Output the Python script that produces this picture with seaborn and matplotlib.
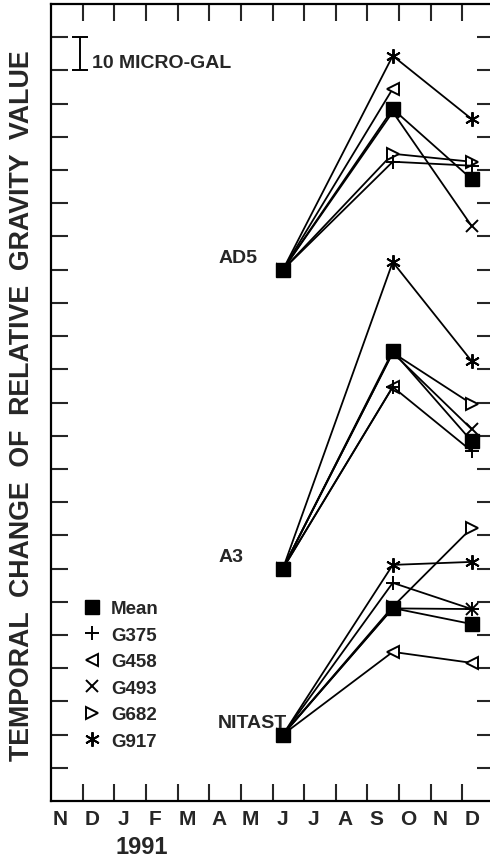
import numpy as np
import pandas as pd
import matplotlib
matplotlib.use("Agg")
import matplotlib.pyplot as plt
from matplotlib.lines import Line2D
import seaborn as sns

# Stations and their vertical offsets on the plot (micro-gal)
stations = ["AD5", "A3", "NITAST"]
station_offset = [160, 70, 20]

# Survey epochs in months counted from 1 Nov 1990: Jun 1991, late Sep 1991, Dec 1991
survey_month = [7.33, 10.8, 13.29]

# Month letters along the time axis (Nov 1990 - Dec 1991)
month_letters = ["N", "D", "J", "F", "M", "A", "M", "J", "J", "A", "S", "O", "N", "D"]

series_names = ["Mean", "G375", "G458", "G493", "G682", "G917"]

# Gravity change relative to June (micro-gal), per station [AD5, A3, NITAST]
mean_sep = [48.4, 65.5, 38.1]
mean_dec = [27.3, 38.4, 33.3]
g375_sep = [32.5, 54.7, 45.7]
g375_dec = [31.3, 35.4, 37.8]
g458_sep = [54.5, 54.7, 24.9]
g458_dec = [np.nan, np.nan, 21.6]
g493_sep = [47.5, 65.0, 38.0]
g493_dec = [13.2, 42.0, 37.8]
g682_sep = [34.9, 65.0, 38.5]
g682_dec = [32.5, 49.6, 62.2]
g917_sep = [64.4, 92.3, 51.1]
g917_dec = [45.4, 62.5, 52.0]

changes = {
    "Mean": (mean_sep, mean_dec),
    "G375": (g375_sep, g375_dec),
    "G458": (g458_sep, g458_dec),
    "G493": (g493_sep, g493_dec),
    "G682": (g682_sep, g682_dec),
    "G917": (g917_sep, g917_dec),
}

rows = []
for si, st in enumerate(stations):
    base = station_offset[si]
    for name in series_names:
        sep, dec = changes[name]
        vals = [0.0, sep[si], dec[si]]
        for m, v in zip(survey_month, vals):
            if not np.isnan(v):
                rows.append({"station": st, "series": name, "month": m, "value": base + v})
df = pd.DataFrame(rows)

marker_style = {
    "Mean": dict(marker="s", markersize=9.5, markerfacecolor="black", markeredgecolor="black", markeredgewidth=1.0),
    "G375": dict(marker="+", markersize=10, markerfacecolor="black", markeredgecolor="black", markeredgewidth=1.4),
    "G458": dict(marker="<", markersize=8.5, markerfacecolor="white", markeredgecolor="black", markeredgewidth=1.4),
    "G493": dict(marker="x", markersize=8, markerfacecolor="black", markeredgecolor="black", markeredgewidth=1.4),
    "G682": dict(marker=">", markersize=8.5, markerfacecolor="white", markeredgecolor="black", markeredgewidth=1.4),
    "G917": dict(marker=(6, 2, 0), markersize=10.5, markerfacecolor="black", markeredgecolor="black", markeredgewidth=1.4),
}

sns.set_style("ticks")
plt.rcParams["font.family"] = ["Liberation Sans", "DejaVu Sans"]
plt.rcParams["font.weight"] = "bold"

W, H = 490, 862
fig = plt.figure(figsize=(W / 100, H / 100), dpi=100)
ax = fig.add_axes([51 / W, (H - 802) / H, (494 - 51) / W, 797 / H])

draw_order = ["G917", "G682", "G493", "G458", "G375", "Mean"]
for st in stations:
    for name in draw_order:
        sub = df[(df.station == st) & (df.series == name)]
        sns.lineplot(data=sub, x="month", y="value", ax=ax, color="black",
                     linewidth=1.3, errorbar=None, legend=False, sort=False,
                     **marker_style[name])

ax.set_xlim(0, 14)
ax.set_ylim(0, 240)
ax.set_xlabel("")
ax.set_ylabel("")

# Month boundaries as tick marks, month letters centred inside each month
ax.set_xticks(np.arange(1, 14))
ax.set_xticks(np.arange(14) + 0.3, minor=True)
ax.set_xticklabels([])
ax.set_xticklabels(month_letters, minor=True, fontsize=15, fontweight="bold")
ax.tick_params(axis="x", which="major", direction="in", length=12, width=1.5,
               top=True, bottom=True)
ax.tick_params(axis="x", which="minor", length=0, pad=6)

ax.set_yticks(np.arange(10, 240, 10))
ax.set_yticklabels([])
ax.tick_params(axis="y", which="major", direction="in", length=12, width=1.5,
               left=True, right=True)

for sp in ax.spines.values():
    sp.set_linewidth(1.6)
    sp.set_color("black")

ax.set_ylabel("TEMPORAL  CHANGE  OF  RELATIVE  GRAVITY  VALUE",
              fontsize=19.3, fontweight="bold")
ax.yaxis.set_label_coords(-0.036, 0.497)

# Year under the January/February letters
ax.text(2.87, -0.057, "1991", transform=ax.get_xaxis_transform(),
        ha="center", va="center", fontsize=17, fontweight="bold")

# Station names next to their June reference points
for si, st in enumerate(stations):
    ax.text(5.28, station_offset[si] + 2.4, st, ha="left", va="baseline",
            fontsize=14, fontweight="bold")

# 10 micro-gal scale bar
ax.errorbar(0.92, 225, yerr=5, fmt="none", ecolor="black", elinewidth=1.4,
            capsize=5.5, capthick=1.4)
ax.text(1.3, 221, "10 MICRO-GAL", ha="left", va="baseline",
        fontsize=14, fontweight="bold")

handles = [Line2D([], [], linestyle="none", color="black", **marker_style[n])
           for n in series_names]
ax.legend(handles, series_names, loc="upper left", bbox_to_anchor=(0.072, 0.252),
          frameon=False, handlelength=1.0, handletextpad=0.5, labelspacing=0.5,
          borderpad=0, borderaxespad=0, prop={"size": 13.5, "weight": "bold"})

fig.savefig("out.png", dpi=100)
